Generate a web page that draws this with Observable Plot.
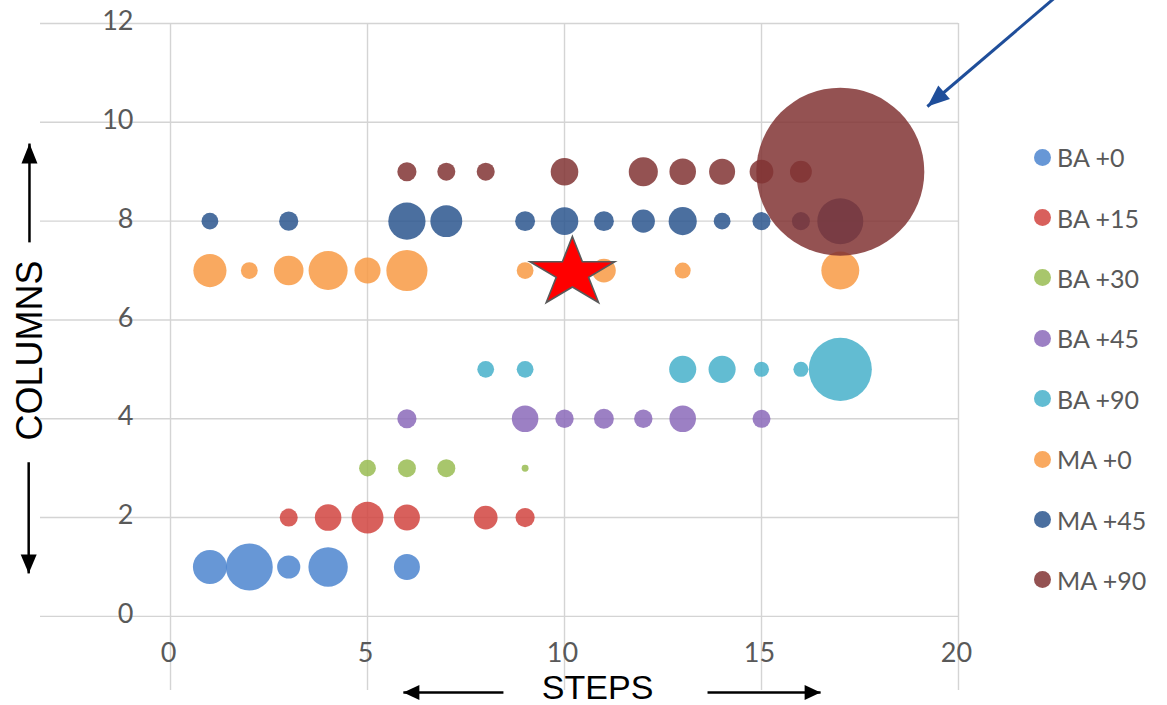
<!DOCTYPE html>
<html>
<head>
<meta charset="utf-8">
<script src="https://cdn.jsdelivr.net/npm/d3@7"></script>
<script src="https://cdn.jsdelivr.net/npm/@observablehq/plot@0.6"></script>
<style>
  body { margin: 0; background: #fff; }
  #wrap { position: relative; width: 1167px; height: 705px; overflow: hidden; background: #fff; }
  #legend { position: absolute; left: 1034px; top: 127px; font-family: Lato, "Open Sans", sans-serif; font-size: 25px; color: #595959; }
  .item { display: flex; align-items: center; height: 60.4px; white-space: nowrap; }
  .sw { width: 17px; height: 17px; border-radius: 50%; margin-right: 6px; opacity: 0.85; }
</style>
</head>
<body>
<div id="wrap"><div id="legend"></div></div>
<script>
// ---- series definitions ----
const seriesNames  = ["BA +0", "BA +15", "BA +30", "BA +45", "BA +90", "MA +0", "MA +45", "MA +90"];
const seriesColumn = [1, 2, 3, 4, 5, 7, 8, 9];
const seriesColors = ["#4c85cf", "#d1443f", "#99bc52", "#8b6aba", "#46b0ca", "#f89a44", "#2c568e", "#813434"];

// ---- bubble data: steps (x) and bubble sizes for each series ----
const ba0Steps  = [1, 2, 3, 4, 6];
const ba0Sizes  = [4.1, 7.8, 1.9, 5.5, 2.4];
const ba15Steps = [3, 4, 5, 6, 8, 9];
const ba15Sizes = [1.15, 2.5, 3.6, 2.4, 2.0, 1.3];
const ba30Steps = [5, 6, 7, 9];
const ba30Sizes = [1.0, 1.15, 1.15, 0.17];
const ba45Steps = [6, 9, 10, 11, 12, 13, 15];
const ba45Sizes = [1.3, 2.5, 1.2, 1.4, 1.2, 2.5, 1.15];
const ba90Steps = [8, 9, 13, 14, 15, 16, 17];
const ba90Sizes = [1.0, 1.0, 2.6, 2.6, 0.8, 0.8, 14.1];
const ma0Steps  = [1, 2, 3, 4, 5, 6, 9, 11, 13, 17];
const ma0Sizes  = [3.9, 1.0, 3.1, 5.4, 2.4, 6.0, 1.0, 2.0, 0.9, 5.1];
const ma45Steps = [1, 3, 6, 7, 9, 10, 11, 12, 13, 14, 15, 16, 17];
const ma45Sizes = [1.0, 1.3, 4.9, 3.6, 1.4, 2.7, 1.4, 1.9, 2.8, 1.0, 1.15, 1.15, 7.5];
const ma90Steps = [6, 7, 8, 10, 12, 13, 14, 15, 16, 17];
const ma90Sizes = [1.3, 1.15, 1.15, 2.7, 3.0, 2.5, 2.4, 2.0, 1.7, 100];

const allSteps = [ba0Steps, ba15Steps, ba30Steps, ba45Steps, ba90Steps, ma0Steps, ma45Steps, ma90Steps];
const allSizes = [ba0Sizes, ba15Sizes, ba30Sizes, ba45Sizes, ba90Sizes, ma0Sizes, ma45Sizes, ma90Sizes];

// ---- axis ticks ----
const xTicks = [0, 5, 10, 15, 20];
const yTicks = [0, 2, 4, 6, 8, 10, 12];
const xDomain = [-3.3, 20];
const yDomain = [-1.5, 12];

// ---- annotations ----
const starPoint = [{step: 10.2, column: 6.95}];
const annotationArrows = [
  {x1: 22.56, y1: 12.6, x2: 19.21, y2: 10.32, color: "#1f4e9a", w: 3, len: 22, half: 9},
  {x1: -3.58, y1: 7.57, x2: -3.58, y2: 9.57, color: "#000", w: 2.5, len: 20, half: 8},
  {x1: -3.60, y1: 3.12, x2: -3.60, y2: 0.87, color: "#000", w: 2.5, len: 19, half: 8},
  {x1: 8.45, y1: -1.54, x2: 5.91, y2: -1.54, color: "#000", w: 2.5, len: 16, half: 7.5},
  {x1: 13.63, y1: -1.54, x2: 16.5, y2: -1.54, color: "#000", w: 2.5, len: 16, half: 7.5}
];
const axisTitles = [
  {x: -3.55, y: 5.38, text: "COLUMNS", rotate: -90, size: 36},
  {x: 10.84, y: -1.447, text: "STEPS", rotate: 0, size: 34}
];

// ---- build table ----
const bubbles = [];
seriesNames.forEach((name, i) => {
  allSteps[i].forEach((s, j) => bubbles.push({series: name, step: s, column: seriesColumn[i], size: allSizes[i][j]}));
});

const W = 1167, H = 705, mL = 40, mR = 209, mT = 23, mB = 15;
const kx = (W - mL - mR) / (xDomain[1] - xDomain[0]);
const ky = (H - mT - mB) / (yDomain[1] - yDomain[0]);
annotationArrows.forEach(a => {
  const dx = (a.x2 - a.x1) * kx, dy = -(a.y2 - a.y1) * ky;
  a.angle = Math.atan2(dx, -dy) * 180 / Math.PI;
});

const stretchedStar = {
  draw(ctx, size) {
    const R = Math.sqrt(size / Math.PI), ri = R * 0.382, sx = 1.22;
    for (let i = 0; i < 10; i++) {
      const a = Math.PI / 5 * i, rr = i % 2 ? ri : R;
      const px = Math.sin(a) * rr * sx, py = -Math.cos(a) * rr;
      if (i) ctx.lineTo(px, py); else ctx.moveTo(px, py);
    }
    ctx.closePath();
  }
};
const headSymbol = (len, half) => ({
  draw(ctx) { ctx.moveTo(0, 0); ctx.lineTo(-half, len); ctx.lineTo(half, len); ctx.closePath(); }
});

const chart = Plot.plot({
  width: W, height: H,
  marginLeft: mL, marginRight: mR, marginTop: mT, marginBottom: mB,
  x: {domain: xDomain, axis: null},
  y: {domain: yDomain, axis: null},
  r: {type: "sqrt", domain: [0, 100], range: [0, 84]},
  color: {domain: seriesNames, range: seriesColors},
  style: {fontFamily: "Lato, 'Open Sans', sans-serif", background: "white"},
  marks: [
    Plot.ruleY(yTicks, {y: d => d, x1: xDomain[0], x2: xDomain[1], stroke: "#d4d4d4", strokeWidth: 1.4}),
    Plot.ruleX(xTicks, {x: d => d, y1: yDomain[0], y2: yDomain[1], stroke: "#d4d4d4", strokeWidth: 1.4}),
    Plot.text(yTicks, {x: 0, y: d => d, text: d => String(d), dx: -37, dy: -2, textAnchor: "end", fontSize: 27, fill: "#595959"}),
    Plot.text(xTicks, {x: d => d, y: 0, text: d => String(d), dx: -2, dy: 37, fontSize: 27, fill: "#595959"}),
    Plot.dot(bubbles, {x: "step", y: "column", r: "size", fill: "series", fillOpacity: 0.85, sort: null}),
    Plot.dot(starPoint, {x: "step", y: "column", r: 36.5, symbol: stretchedStar, fill: "#ff0000", stroke: "#595959", strokeWidth: 1.6}),
    ...annotationArrows.map(a => Plot.link([a], {x1: "x1", y1: "y1", x2: "x2", y2: "y2", stroke: a.color, strokeWidth: a.w})),
    ...annotationArrows.map(a => Plot.dot([a], {x: "x2", y: "y2", r: 5, symbol: headSymbol(a.len, a.half), rotate: a.angle, fill: a.color, stroke: "none"})),
    ...axisTitles.map(t => Plot.text([t], {x: "x", y: "y", text: "text", rotate: t.rotate, fontSize: t.size, fontFamily: "'Liberation Sans', Arial, sans-serif", fill: "#000"}))
  ]
});
document.getElementById("wrap").prepend(chart);

const legend = document.getElementById("legend");
seriesNames.forEach((name, i) => {
  const item = document.createElement("div");
  item.className = "item";
  const sw = document.createElement("span");
  sw.className = "sw";
  sw.style.background = seriesColors[i];
  const lab = document.createElement("span");
  lab.textContent = name;
  item.append(sw, lab);
  legend.append(item);
});
</script>
</body>
</html>
